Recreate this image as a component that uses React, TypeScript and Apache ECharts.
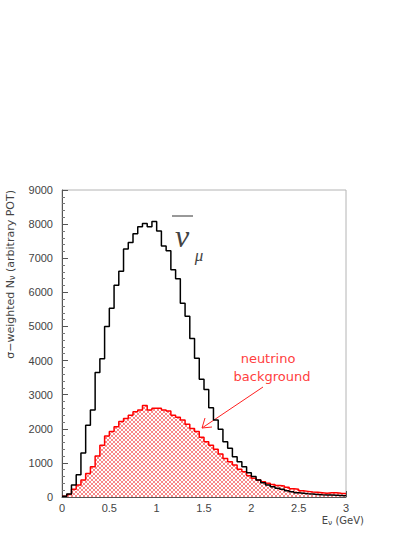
import React, { useEffect, useRef } from "react";
import * as echarts from "echarts";

const binWidth = 0.05;
const xMin = 0;
const xMax = 3;
const xTicks = [0, 0.5, 1, 1.5, 2, 2.5, 3];
const yTicks = [0, 1000, 2000, 3000, 4000, 5000, 6000, 7000, 8000, 9000];

// sigma-weighted anti-numu (black histogram)
const numuBarCounts = [
  20, 90, 350, 650, 1290, 2100, 2550, 3650, 4050, 5000,
  5530, 6210, 6620, 7270, 7460, 7720, 7920, 8020, 7920, 8080,
  7800, 7360, 7220, 6660, 6400, 5680, 5300, 4650, 4070, 3450,
  3150, 2620, 2260, 1985, 1620, 1430, 1180, 1035, 890, 710,
  600, 500, 420, 350, 300, 255, 225, 185, 155, 125,
  110, 95, 85, 75, 65, 60, 55, 50, 45, 40,
];

// neutrino background (red hatched histogram)
const nuBackgroundCounts = [
  20, 70, 225, 350, 500, 690, 890, 1200, 1520, 1790,
  1920, 2060, 2210, 2300, 2400, 2500, 2550, 2680, 2550, 2600,
  2600, 2550, 2520, 2400, 2340, 2260, 2130, 2010, 1920, 1750,
  1620, 1520, 1400, 1260, 1130, 1035, 940, 810, 740, 625,
  550, 500, 450, 400, 370, 340, 320, 285, 245, 225,
  185, 165, 145, 140, 125, 110, 125, 125, 110, 100,
];

const toSteps = (counts: number[]) => {
  const pts: [number, number][] = counts.map((v, i) => [+(xMin + i * binWidth).toFixed(4), v]);
  pts.push([xMax, counts[counts.length - 1]]);
  return pts;
};

const FONT = "Liberation Sans";
const WIDE = "DejaVu Sans";

function makeHatch(): any {
  try {
    const c = document.createElement("canvas");
    c.width = 4;
    c.height = 4;
    const ctx = c.getContext("2d");
    if (!ctx) return "#f7b3b3";
    ctx.fillStyle = "#ffffff";
    ctx.fillRect(0, 0, 4, 4);
    ctx.fillStyle = "rgba(240,40,40,0.55)";
    for (let i = 0; i < 4; i++) {
      ctx.fillRect(i, i, 1, 1);
      ctx.fillRect(3 - i, i, 1, 1);
    }
    return { image: c, repeat: "repeat" };
  } catch (e) {
    return "#f7b3b3";
  }
}

export default function App() {
  const ref = useRef<HTMLDivElement>(null);
  useEffect(() => {
    if (!ref.current) return;
    const chart = echarts.init(ref.current, null, { renderer: "svg" });
    const gridLeft = 62, gridTop = 190, gridW = 284, gridH = 307;
    chart.setOption({
      animation: false,
      backgroundColor: "#ffffff",
      grid: {
        left: gridLeft, top: gridTop, width: gridW, height: gridH,
        show: true, borderColor: "#b4b4b4", borderWidth: 1, backgroundColor: "transparent",
      },
      xAxis: {
        type: "value", min: xMin, max: xMax, interval: 0.5,
        axisLine: { show: true, lineStyle: { color: "#555", width: 1 } },
        axisTick: { show: true, inside: true, length: 6, lineStyle: { color: "#555" } },
        minorTick: { show: true, splitNumber: 5, length: 3, lineStyle: { color: "#777" } },
        splitLine: { show: false },
        axisLabel: {
          color: "#444", fontFamily: FONT, fontSize: 11, margin: 5,
          formatter: (v: number) => (xTicks.includes(v) ? String(v) : ""),
        },
      },
      yAxis: {
        type: "value", min: 0, max: 9000, interval: 1000,
        axisLine: { show: true, lineStyle: { color: "#555", width: 1 } },
        axisTick: { show: true, inside: true, length: 6, lineStyle: { color: "#555" } },
        minorTick: { show: true, splitNumber: 5, length: 3, lineStyle: { color: "#777" } },
        splitLine: { show: false },
        axisLabel: {
          color: "#444", fontFamily: FONT, fontSize: 11, margin: 9,
          formatter: (v: number) => (yTicks.includes(v) ? String(v) : ""),
        },
      },
      series: [
        {
          name: "neutrino background", type: "line", step: "end", symbol: "none",
          data: toSteps(nuBackgroundCounts),
          lineStyle: { color: "#ff0000", width: 1.5 },
          areaStyle: { color: makeHatch(), opacity: 1 },
          z: 2,
        },
        {
          name: "anti-numu", type: "line", step: "end", symbol: "none",
          data: toSteps(numuBarCounts),
          lineStyle: { color: "#000000", width: 1.5 },
          z: 3,
        },
      ],
      graphic: [
        {
          type: "text", x: 10, y: gridTop, rotation: Math.PI / 2,
          style: {
            text: "{a|σ−weighted N}{s|ν}{a| (arbitrary POT)}",
            align: "right", verticalAlign: "middle",
            rich: {
              a: { fontFamily: WIDE, fontSize: 11, fill: "#444" },
              s: { fontFamily: WIDE, fontSize: 8, fill: "#444", padding: [5, 0, 0, 0] },
            },
          },
        },
        {
          type: "text", x: 364, y: 520,
          style: {
            text: "{a|E}{s|ν}{a| (GeV)}",
            align: "right", verticalAlign: "middle",
            rich: {
              a: { fontFamily: WIDE, fontSize: 10, fill: "#444" },
              s: { fontFamily: WIDE, fontSize: 7.5, fill: "#444", padding: [5, 0, 0, 0] },
            },
          },
        },
        {
          type: "line", shape: { x1: 172, y1: 216, x2: 193, y2: 216 },
          style: { stroke: "#333", lineWidth: 1 },
        },
        {
          type: "text", x: 182, y: 236,
          style: {
            text: "ν", align: "center", verticalAlign: "middle",
            fontFamily: "Liberation Serif", fontStyle: "italic", fontSize: 32, fill: "#444",
          },
        },
        {
          type: "text", x: 199, y: 255,
          style: {
            text: "μ", align: "center", verticalAlign: "middle",
            fontFamily: "Liberation Serif", fontStyle: "italic", fontSize: 17, fill: "#444",
          },
        },
        {
          type: "text", x: 268, y: 358,
          style: {
            text: "neutrino", align: "center", verticalAlign: "middle",
            fontFamily: WIDE, fontSize: 13, fill: "#ff4040",
          },
        },
        {
          type: "text", x: 272, y: 376,
          style: {
            text: "background", align: "center", verticalAlign: "middle",
            fontFamily: WIDE, fontSize: 13, fill: "#ff4040",
          },
        },
        {
          type: "line", shape: { x1: 263, y1: 387, x2: 202, y2: 428 },
          style: { stroke: "#ff2020", lineWidth: 1 },
        },
        {
          type: "polyline", shape: { points: [[205, 418], [202, 428], [212, 427]] },
          style: { stroke: "#ff2020", lineWidth: 1, fill: "none" },
        },
      ],
    });
    return () => chart.dispose();
  }, []);
  return (
    <div
      ref={ref}
      style={{ position: "fixed", left: 0, top: 0, width: 415, height: 537 }}
    />
  );
}
